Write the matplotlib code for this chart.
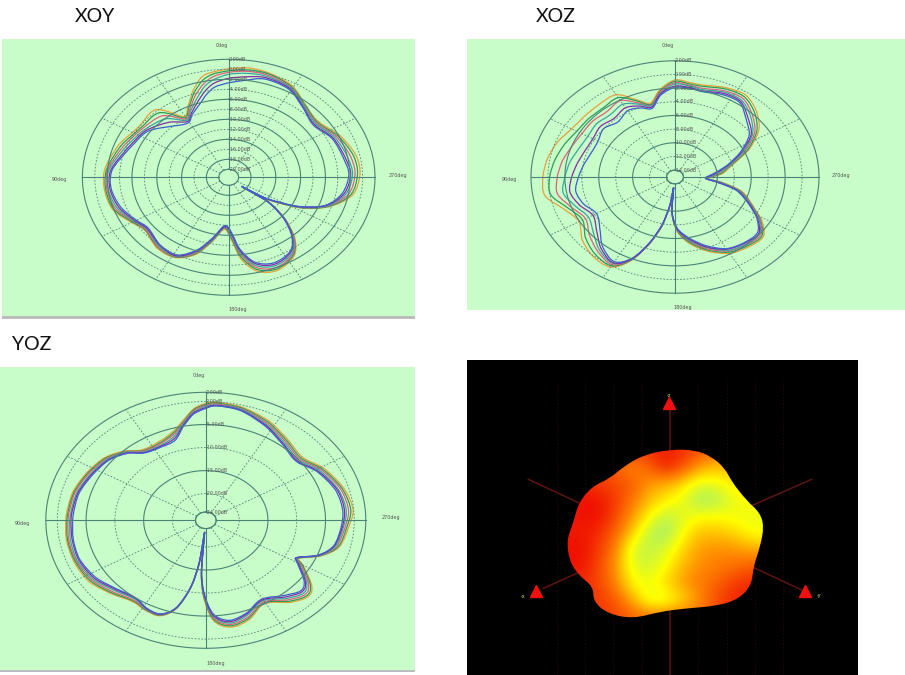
import numpy as np
import matplotlib
matplotlib.use('Agg')
import matplotlib.pyplot as plt
from matplotlib.colors import LinearSegmentedColormap
from matplotlib.patches import PathPatch, Rectangle
from matplotlib.path import Path

W, H = 905, 675
curve_colors = ['#e8a03c', '#2e9e4e', '#e0607a', '#3aa6a0', '#8a2aa8', '#3a5fd0']

# XOY cut, angle in deg, levels in dB
xoy_theta = [0,7,12,18,25,31,41,55,70,86,97,109,120,128.5,141,152,161,168,176,182,187,194,203,214,221,227,231,232.5,229,235,242.5,250,260,272,282,295,307,318,331,343.5,352,360]
xoy_1 = [0.1,-0.4,-1.0,-3.2,-6.0,-7.4,-3.7,-3.9,-2.7,-1.5,-1.4,-1.8,-3.5,-4.4,-3.3,-3.4,-5.3,-8.3,-11.2,-9.1,-5.1,-2.2,-1.4,-2.7,-5.3,-8.9,-12.0,-14.4,-18.6,-13.8,-8.3,-4.4,-1.3,-0.4,-0.6,-1.8,-3.3,-2.7,-0.6,0.3,0.5,0.1]
xoy_2 = [-0.3,-0.8,-1.7,-3.7,-6.3,-7.7,-4.5,-4.3,-3.1,-1.8,-1.6,-2.0,-3.7,-4.5,-3.5,-3.5,-5.5,-8.5,-11.4,-9.4,-5.6,-2.6,-1.7,-2.9,-5.5,-9.0,-12.1,-14.5,-18.7,-13.9,-8.4,-4.5,-1.6,-0.8,-1.0,-2.1,-3.5,-2.8,-0.8,0.1,0.1,-0.3]
xoy_3 = [-0.6,-1.3,-2.4,-4.3,-6.7,-8.0,-5.3,-4.6,-3.5,-2.0,-1.8,-2.3,-3.9,-4.6,-3.6,-3.6,-5.7,-8.7,-11.5,-9.7,-6.1,-3.0,-2.0,-3.1,-5.6,-9.1,-12.2,-14.5,-18.7,-14.0,-8.6,-4.7,-2.0,-1.2,-1.5,-2.4,-3.7,-3.0,-1.0,-0.2,-0.2,-0.6]
xoy_4 = [-1.0,-1.9,-3.0,-5.0,-7.0,-8.3,-6.1,-5.0,-3.9,-2.2,-2.0,-2.6,-4.0,-4.8,-3.8,-3.7,-5.9,-8.8,-11.6,-10.0,-6.5,-3.4,-2.4,-3.3,-5.8,-9.2,-12.3,-14.6,-18.8,-14.1,-8.7,-4.8,-2.4,-1.6,-2.0,-2.7,-3.9,-3.1,-1.1,-0.5,-0.6,-1.0]
xoy_5 = [-1.8,-2.6,-3.8,-5.6,-7.4,-8.6,-7.0,-5.3,-4.3,-2.5,-2.3,-2.9,-4.2,-4.9,-4.0,-3.8,-6.1,-9.0,-11.7,-10.4,-6.9,-3.8,-2.7,-3.6,-6.0,-9.3,-12.4,-14.6,-18.8,-14.2,-8.9,-5.0,-2.7,-1.9,-2.4,-3.0,-4.2,-3.3,-1.3,-0.8,-1.3,-1.8]
xoy_6 = [-2.7,-3.4,-4.6,-6.3,-7.7,-8.9,-8.0,-5.6,-4.6,-2.7,-2.5,-3.2,-4.4,-5.1,-4.1,-4.0,-6.3,-9.2,-11.9,-10.7,-7.2,-4.1,-3.0,-3.8,-6.1,-9.4,-12.5,-14.6,-18.9,-14.3,-9.0,-5.1,-3.0,-2.2,-2.7,-3.2,-4.4,-3.4,-1.5,-1.1,-2.0,-2.7]
xoy_rings = [2,0,-2,-4,-6,-8,-10,-12,-14,-16,-18,-20]
xoy_labels = ['2.00dB','0.00dB','-2.00dB','-4.00dB','-6.00dB','-8.00dB','-10.00dB','-12.00dB','-14.00dB','-16.00dB','-18.00dB','-20.00dB']

# XOZ cut
xoz_theta = [0,8,15,22,30,40,50,60,70,80,90,100,110,120,130,140,150,157,163,168,172,174,176,182,190,200,210,220,230,238,245,255,262,267,275,285,295,305,315,325,335,345,352,360]
xoz_1 = [-0.8,-2.1,-3.8,-2.8,-1.1,-1.1,-1.1,-0.9,-0.2,0.3,0.6,0.6,-1.1,-1.9,-0.7,0.1,0.2,-1.7,-4.8,-7.7,-10.8,-13.3,-9.7,-7.0,-5.1,-3.4,-2.1,-1.6,-1.4,-2.9,-4.8,-6.8,-9.4,-11.2,-9.4,-7.9,-5.3,-2.9,-1.4,-0.4,-0.6,-1.1,-1.1,-0.8]
xoz_2 = [-1.0,-2.3,-4.0,-3.0,-1.6,-1.8,-1.7,-1.6,-1.1,-0.6,-0.2,-0.1,-1.6,-2.4,-1.2,-0.3,0.0,-1.8,-4.9,-7.8,-10.9,-13.4,-9.8,-7.1,-5.3,-3.6,-2.3,-1.8,-1.6,-3.1,-4.9,-7.0,-9.6,-11.2,-9.6,-8.1,-5.5,-3.2,-1.7,-0.7,-0.8,-1.3,-1.3,-1.0]
xoz_3 = [-1.2,-2.4,-4.1,-3.3,-2.1,-2.5,-2.3,-2.3,-2.0,-1.5,-1.1,-0.9,-2.0,-2.8,-1.8,-0.8,-0.2,-1.9,-4.9,-7.8,-10.9,-13.4,-9.8,-7.2,-5.5,-3.8,-2.5,-2.0,-1.8,-3.2,-5.0,-7.1,-9.8,-11.3,-9.9,-8.3,-5.8,-3.5,-2.1,-1.0,-1.1,-1.6,-1.5,-1.2]
xoz_4 = [-1.4,-2.6,-4.2,-3.5,-2.7,-3.1,-2.9,-3.1,-2.9,-2.4,-2.0,-1.6,-2.5,-3.2,-2.4,-1.1,-0.4,-2.0,-5.0,-7.9,-11.0,-13.4,-9.8,-7.3,-5.6,-4.0,-2.6,-2.1,-2.0,-3.3,-5.1,-7.2,-9.9,-11.3,-10.1,-8.4,-6.0,-3.8,-2.4,-1.3,-1.3,-1.8,-1.6,-1.4]
xoz_5 = [-1.7,-2.7,-4.4,-3.8,-3.3,-3.8,-3.5,-3.8,-3.7,-3.3,-2.8,-2.4,-3.0,-3.8,-2.9,-1.4,-0.5,-2.0,-5.0,-8.0,-11.0,-13.5,-9.9,-7.4,-5.8,-4.1,-2.8,-2.3,-2.1,-3.5,-5.2,-7.4,-10.1,-11.4,-10.4,-8.6,-6.3,-4.0,-2.8,-1.5,-1.5,-2.0,-1.8,-1.7]
xoz_6 = [-1.9,-2.9,-4.6,-4.1,-3.8,-4.5,-4.0,-4.5,-4.5,-4.1,-3.6,-3.1,-3.5,-4.3,-3.4,-1.7,-0.7,-2.1,-5.1,-8.0,-11.1,-13.5,-9.9,-7.5,-6.0,-4.3,-2.9,-2.4,-2.3,-3.6,-5.3,-7.5,-10.2,-11.4,-10.6,-8.7,-6.5,-4.3,-3.1,-1.7,-1.7,-2.1,-1.9,-1.9]
xoz_rings = [2,0,-2,-4,-6,-8,-10,-12,-14]
xoz_labels = ['2.00dB','0.00dB','-2.00dB','-4.00dB','-6.00dB','-8.00dB','-10.00dB','-12.00dB','-14.00dB']

# YOZ cut
yoz_theta = [0,4,6,11,17,26,36,43,52,63,75,88,100,111,123,134,144,152,159,165,170,173,175.5,176,178.5,183.5,190.5,199,209.5,220,227,232,240,243,249,256,267,275,286,299,309,320,333,346,356,360]
yoz_1 = [-0.4,-1.2,-1.9,-4.0,-5.8,-6.9,-6.9,-5.2,-3.6,-2.7,-1.9,-1.5,-1.2,-1.2,-1.5,-2.9,-4.0,-3.6,-3.6,-5.9,-11.1,-16.2,-23.0,-14.7,-9.4,-4.0,-2.2,-2.9,-5.0,-2.6,-1.5,-2.4,-6.3,-7.6,-4.3,-1.9,-0.9,-0.1,-0.8,-2.4,-4.1,-3.3,-1.6,-0.4,-0.1,-0.4]
yoz_2 = [-0.6,-1.4,-2.1,-4.3,-6.1,-7.2,-7.1,-5.4,-3.8,-2.9,-2.1,-1.7,-1.4,-1.4,-1.8,-3.1,-4.2,-3.7,-3.7,-6.0,-11.1,-16.3,-23.0,-14.9,-9.6,-4.3,-2.5,-3.2,-5.2,-2.9,-1.8,-2.7,-6.5,-7.7,-4.4,-2.1,-1.2,-0.5,-1.1,-2.7,-4.4,-3.6,-1.9,-0.6,-0.3,-0.6]
yoz_3 = [-0.8,-1.6,-2.3,-4.5,-6.4,-7.4,-7.2,-5.5,-4.0,-3.1,-2.3,-1.9,-1.6,-1.6,-2.1,-3.4,-4.4,-3.8,-3.8,-6.0,-11.2,-16.4,-23.1,-15.0,-9.9,-4.6,-2.8,-3.5,-5.4,-3.3,-2.2,-3.1,-6.8,-7.8,-4.5,-2.4,-1.5,-0.9,-1.4,-3.0,-4.7,-3.9,-2.2,-0.8,-0.5,-0.8]
yoz_4 = [-1.0,-1.9,-2.5,-4.7,-6.8,-7.7,-7.4,-5.6,-4.2,-3.4,-2.6,-2.2,-1.9,-1.8,-2.4,-3.8,-4.7,-3.9,-3.9,-6.1,-11.2,-16.5,-23.2,-15.2,-10.1,-5.0,-3.1,-3.9,-5.7,-3.7,-2.6,-3.5,-7.1,-7.9,-4.6,-2.6,-1.8,-1.3,-1.8,-3.3,-5.0,-4.2,-2.5,-0.9,-0.7,-1.0]
yoz_5 = [-1.3,-2.1,-2.7,-4.9,-7.2,-7.9,-7.6,-5.8,-4.4,-3.6,-2.8,-2.4,-2.2,-2.1,-2.7,-4.1,-4.9,-4.0,-4.0,-6.2,-11.3,-16.5,-23.2,-15.3,-10.3,-5.2,-3.4,-4.2,-5.9,-4.1,-3.0,-3.8,-7.3,-8.0,-4.7,-2.8,-2.0,-1.6,-2.0,-3.6,-5.3,-4.5,-2.7,-1.1,-0.8,-1.3]
yoz_6 = [-1.5,-2.3,-2.9,-5.1,-7.6,-8.1,-7.7,-5.9,-4.5,-3.8,-3.0,-2.7,-2.4,-2.3,-3.0,-4.3,-5.0,-4.1,-4.0,-6.2,-11.3,-16.6,-23.3,-15.5,-10.5,-5.5,-3.7,-4.4,-6.1,-4.5,-3.3,-4.1,-7.5,-8.0,-4.8,-2.9,-2.2,-1.9,-2.3,-3.8,-5.5,-4.7,-2.9,-1.2,-0.9,-1.5]
yoz_rings = [2,0,-5,-10,-15,-20,-24]
yoz_labels = ['2.00dB','0.00dB','-5.00dB','-10.00dB','-15.00dB','-20.00dB','-24.00dB']

# 3D gain picture: colour level on a coarse grid, and its silhouette
blob_levels = [
    [.10,.10,.10,.10,.10,.10,.05,.10,.20,.30,.30,.30,.30],
    [.10,.10,.20,.30,.42,.25,.02,.20,.45,.55,.50,.50,.50],
    [.10,.10,.15,.20,.25,.45,.50,.62,.80,.75,.68,.60,.60],
    [.05,.00,.02,.15,.35,.55,.66,.78,1.0,.95,.78,.72,.72],
    [.05,.00,.00,.20,.45,.72,.92,.80,.72,.72,.75,.78,.78],
    [.03,.03,.10,.30,.60,.92,1.0,.72,.55,.55,.60,.72,.75],
    [.00,.00,.15,.40,.85,.90,.80,.60,.45,.42,.42,.48,.48],
    [.00,.02,.20,.45,.80,.85,.72,.52,.42,.36,.32,.26,.26],
    [.10,.10,.18,.40,.72,.75,.60,.45,.35,.28,.15,.08,.05],
    [.15,.10,.15,.25,.50,.82,.80,.62,.42,.20,.08,.05,.05],
    [.20,.15,.12,.18,.28,.30,.30,.30,.30,.20,.10,.10,.10],
]
blob_x = [630,705,755,795,815,860,900,912,900,880,875,835,770,680,600,520,445,400,400,355,328,320,340,355,395,450,490,550]
blob_y = [298,300,320,355,395,452,488,530,592,650,705,748,768,775,785,806,792,755,710,675,632,570,518,460,410,385,350,315]


def px_rect(x0, y0, x1, y1):
    return [x0/W, 1 - y1/H, (x1 - x0)/W, (y1 - y0)/H]


def fig_box(x0, y0, x1, y1, color):
    fig.add_artist(Rectangle((x0/W, 1 - y1/H), (x1 - x0)/W, (y1 - y0)/H, zorder=-1,
                             transform=fig.transFigure, fc=color, ec='none'))


def smooth_path(theta, values):
    # bezier line through the read points, no extra data
    p = np.column_stack([np.radians(theta), values])
    m = np.zeros_like(p)
    m[1:-1] = (p[2:] - p[:-2])/2
    m[0] = m[-1] = ((p[1] - p[0]) + (p[-1] - p[-2]))/2
    verts = [p[0]]
    codes = [Path.MOVETO]
    for i in range(len(p) - 1):
        verts += [p[i] + m[i]/3, p[i+1] - m[i+1]/3, p[i+1]]
        codes += [Path.CURVE4]*3
    return Path(verts, codes)


def pattern(cx, cy, a, b, theta, curves, rmin, rings, labels):
    ax = fig.add_axes(px_rect(cx - a, cy - b, cx + a, cy + b), projection='polar')
    ax.set_aspect('auto')
    ax.patch.set_alpha(0)
    ax.set_theta_zero_location('N')
    ax.set_theta_direction(1)
    ax.set_xticks([])
    ax.set_yticks([])
    ax.spines['polar'].set_visible(False)
    ax.set_rlim(rmin, rings[0])
    ax.autoscale(False)
    circle = np.radians(np.arange(0, 361, 2))
    grid = '#4a8478'
    for i, level in enumerate(rings):
        ax.plot(circle, np.full(circle.size, level), color=grid, clip_on=False,
                lw=0.8 if i % 2 == 0 else 0.6, ls='-' if i % 2 == 0 else (0, (2, 2)))
        ax.text(0, level, labels[i], fontsize=3.5, color='#555555', ha='left',
                va='center', clip_on=False)
    ax.plot(circle, np.full(circle.size, rings[-1]), color=grid, lw=0.8)
    for deg in range(0, 360, 30):
        solid = deg % 90 == 0
        ax.plot([np.radians(deg)]*2, [rings[-1], rings[0]], color=grid, clip_on=False,
                lw=0.8 if solid else 0.6, ls='-' if solid else (0, (2, 2)))
    for values, color in zip(curves, curve_colors):
        ax.add_patch(PathPatch(smooth_path(theta, values), fc='none', ec=color, lw=0.9))
    return ax


def px_text(x, y, s, **kw):
    fig.text(x/W, 1 - y/H, s, ha='center', va='center', **kw)


fig = plt.figure(figsize=(W/100, H/100), dpi=100, facecolor='white')

fig_box(2, 39, 415, 316, '#c8fcc8')
fig_box(467, 39, 905, 310, '#c8fcc8')
fig_box(0, 367, 415, 670, '#c8fcc8')
fig_box(2, 316, 415, 319, '#bcbcbc')
fig_box(0, 670, 415, 672, '#bcbcbc')

pattern(228.7, 177.3, 146.3, 118, xoy_theta, [xoy_1, xoy_2, xoy_3, xoy_4, xoy_5, xoy_6], -21.6, xoy_rings, xoy_labels)
pattern(675, 177, 144, 116.2, xoz_theta, [xoz_1, xoz_2, xoz_3, xoz_4, xoz_5, xoz_6], -15.0, xoz_rings, xoz_labels)
pattern(205.8, 520.3, 160, 128, yoz_theta, [yoz_1, yoz_2, yoz_3, yoz_4, yoz_5, yoz_6], -25.8, yoz_rings, yoz_labels)

title_font = dict(fontsize=14, family='Lato', color='#111111')
px_text(95, 17, 'XOY', **title_font)
px_text(556, 16, 'XOZ', **title_font)
px_text(32, 345, 'YOZ', **title_font)

deg_font = dict(fontsize=3.5, color='#555555')
for x, y, s in [(222, 45, '0deg'), (59, 180, '90deg'), (398, 175, '270deg'), (238, 310, '180deg'),
                (668, 46, '0deg'), (509, 180, '90deg'), (841, 175, '270deg'), (683, 307, '180deg'),
                (199, 376, '0deg'), (22, 523, '90deg'), (391, 517, '270deg'), (216, 664, '180deg')]:
    px_text(x, y, s, **deg_font)

# 3D view
ax3 = fig.add_axes(px_rect(467, 360, 858, 675), facecolor='black')
axis_red = '#5e1510'
for x in [290, 375, 460, 545, 715, 800, 885, 970]:
    ax3.plot([x, x], [90, 975], color='#3a0c08', lw=0.6, ls=(0, (1, 3)))
for xs, ys in [([630, 630], [180, 975]), ([205, 640], [388, 590]), ([1055, 640], [388, 570]),
               ([250, 640], [715, 540]), ([1025, 640], [720, 540])]:
    ax3.plot(xs, ys, color=axis_red, lw=1.1)
cmap = LinearSegmentedColormap.from_list('gain', [(0, '#f01000'), (.4, '#ff8800'), (.72, '#ffff00'), (1, '#a0f070')])
im = ax3.imshow(blob_levels, cmap=cmap, vmin=0, vmax=1, interpolation='bicubic',
                extent=(295, 945, 825, 275), aspect='auto', zorder=3)
# smooth closed outline through the silhouette points
pts = np.column_stack([blob_x, blob_y]).astype(float)
mids = (pts + np.roll(pts, -1, axis=0))/2
verts = [mids[-1]]
codes = [Path.MOVETO]
for p, m in zip(pts, mids):
    verts += [p, m]
    codes += [Path.CURVE3, Path.CURVE3]
outline = PathPatch(Path(verts, codes), transform=ax3.transData, fc='none', ec='none')
ax3.add_patch(outline)
im.set_clip_path(outline)
ax3.plot([628, 228, 1035], [160, 722, 722], ls='none', marker='^', ms=8, color='#f01010', zorder=4)
for x, y, s in [(628, 136, '-z'), (188, 738, '-x'), (1076, 738, '-y')]:
    ax3.text(x, y, s, color='#e8e860', fontsize=3.5, ha='center', va='center')
ax3.set_xlim(21, 1194)
ax3.set_ylim(975, 30)
ax3.set_xticks([])
ax3.set_yticks([])
for s in ax3.spines.values():
    s.set_visible(False)

plt.savefig('out.png', dpi=100)
